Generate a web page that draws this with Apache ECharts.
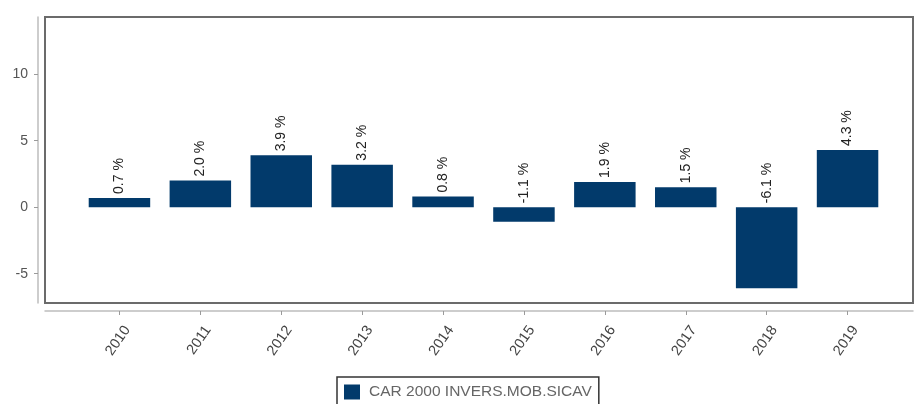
<!DOCTYPE html>
<html>
<head>
<meta charset="utf-8">
<script src="https://cdn.jsdelivr.net/npm/echarts@6/dist/echarts.min.js"></script>
<style>
  html, body { margin: 0; padding: 0; background: #fff; }
  #chart { width: 916px; height: 404px; }
</style>
</head>
<body>
<div id="chart"></div>
<script>
const years = ["2010", "2011", "2012", "2013", "2014", "2015", "2016", "2017", "2018", "2019"];
const returns = [0.7, 2.0, 3.9, 3.2, 0.8, -1.1, 1.9, 1.5, -6.1, 4.3];
const yTicks = [-5, 0, 5, 10];
const seriesName = "CAR 2000 INVERS.MOB.SICAV";

const yMin = -7.2;
const yMax = 14.3;
const font = "Liberation Sans, Arial, sans-serif";

const chart = echarts.init(document.getElementById("chart"));

chart.setOption({
  animation: false,
  backgroundColor: "#fff",
  textStyle: { fontFamily: font },
  grid: [
    // outer box
    { left: 45, right: 3, top: 17, bottom: 101, show: true, borderColor: "#6b6b6b", borderWidth: 2, containLabel: false },
    // bars
    { left: 79, right: 28, top: 17, bottom: 101, containLabel: false }
  ],
  xAxis: [
    {
      gridIndex: 0,
      type: "value",
      min: 0,
      max: 1,
      offset: 8,
      axisLine: { show: true, onZero: false, lineStyle: { color: "#bdbdbd", width: 1.5 } },
      axisTick: { show: false },
      axisLabel: { show: false },
      splitLine: { show: false }
    },
    {
      gridIndex: 1,
      type: "category",
      data: years,
      offset: 8,
      axisLine: { show: false, onZero: false },
      axisTick: { show: true, alignWithLabel: true, length: 4, lineStyle: { color: "#9a9a9a" } },
      axisLabel: {
        rotate: 55,
        color: "#444",
        fontSize: 14.5,
        margin: 11,
        interval: 0,
        verticalAlign: "top",
        padding: [2, 0, 0, 0]
      },
      splitLine: { show: false }
    }
  ],
  yAxis: [
    {
      gridIndex: 0,
      type: "value",
      min: yMin,
      max: yMax,
      show: false
    },
    {
      gridIndex: 1,
      type: "value",
      min: yMin,
      max: yMax,
      offset: 41,
      axisLine: { show: true, onZero: false, lineStyle: { color: "#bdbdbd", width: 1.5 } },
      axisTick: { show: true, length: 4, customValues: yTicks, lineStyle: { color: "#9a9a9a" } },
      axisLabel: { color: "#555", fontSize: 14, margin: 10, customValues: yTicks },
      splitLine: { show: false }
    }
  ],
  legend: {
    left: 337,
    top: 377,
    data: [seriesName],
    icon: "rect",
    itemWidth: 16,
    itemHeight: 15,
    itemGap: 8,
    padding: [7, 7, 10, 7],
    borderColor: "#333",
    borderWidth: 1.5,
    textStyle: { color: "#666", fontSize: 15.5, fontFamily: font, padding: [0, 0, 0, 4] }
  },
  series: [
    {
      name: seriesName,
      type: "bar",
      xAxisIndex: 1,
      yAxisIndex: 1,
      data: returns,
      barCategoryGap: "24%",
      itemStyle: { color: "#023a6b" },
      label: {
        show: true,
        position: "top",
        rotate: 90,
        align: "left",
        verticalAlign: "middle",
        distance: 4,
        color: "#222",
        fontSize: 14,
        formatter: (p) => p.value.toFixed(1) + " %"
      }
    }
  ]
});
</script>
</body>
</html>
